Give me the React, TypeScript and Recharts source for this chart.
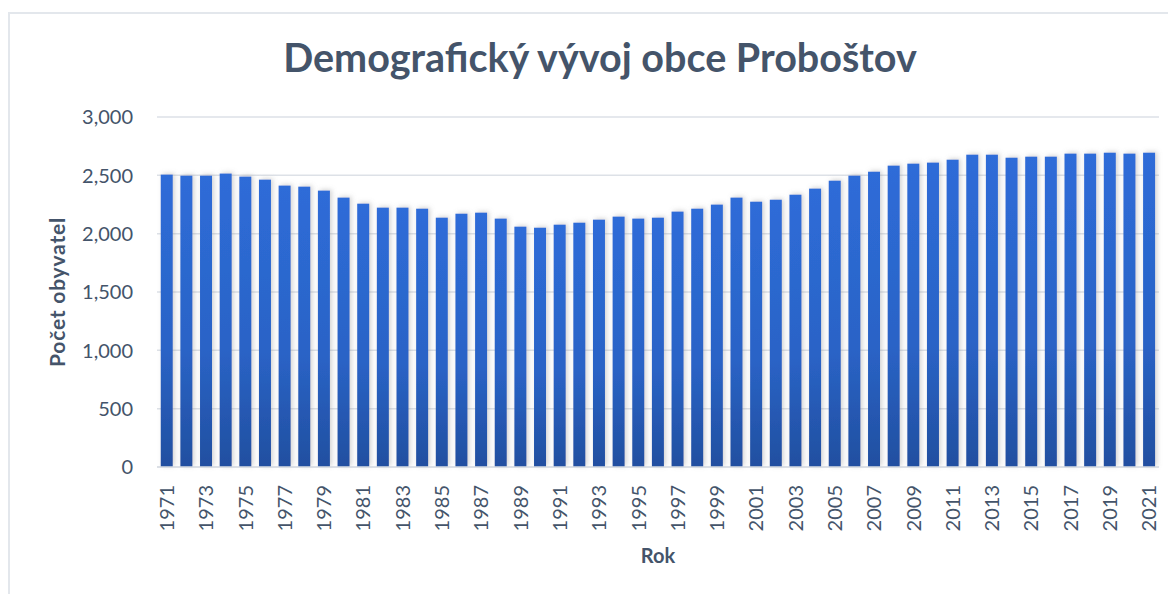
import React from "react";
import { BarChart, Bar, XAxis, YAxis, CartesianGrid } from "recharts";

const years: string[] = [
  "1971","1972","1973","1974","1975","1976","1977","1978","1979","1980",
  "1981","1982","1983","1984","1985","1986","1987","1988","1989","1990",
  "1991","1992","1993","1994","1995","1996","1997","1998","1999","2000",
  "2001","2002","2003","2004","2005","2006","2007","2008","2009","2010",
  "2011","2012","2013","2014","2015","2016","2017","2018","2019","2020","2021",
];

const population: number[] = [
  2506, 2497, 2497, 2515, 2489, 2463, 2412, 2403, 2369, 2309,
  2257, 2223, 2223, 2214, 2137, 2171, 2180, 2129, 2060, 2051,
  2077, 2094, 2120, 2146, 2129, 2137, 2189, 2214, 2249, 2309,
  2274, 2291, 2334, 2386, 2454, 2497, 2531, 2583, 2600, 2609,
  2634, 2677, 2677, 2651, 2660, 2660, 2686, 2686, 2694, 2686, 2694,
];

const yTicks: number[] = [0, 500, 1000, 1500, 2000, 2500, 3000];

const title = "Demografický vývoj obce Proboštov";
const xTitle = "Rok";
const yTitle = "Počet obyvatel";

const data = years.map((y, i) => ({ year: y, value: population[i] }));

const TEXT = "#44546A";
const FONT = "Lato, 'Open Sans', sans-serif";

const XTick = (props: any) => {
  const { x, y, payload } = props;
  return (
    <text
      x={x}
      y={y}
      dy="0.36em"
      textAnchor="end"
      transform={`rotate(-90, ${x}, ${y})`}
      fill={TEXT}
      fontSize={20}
      fontFamily={FONT}
    >
      {payload.value}
    </text>
  );
};

const YTick = (props: any) => {
  const { x, y, payload } = props;
  return (
    <text x={x} y={y} dy="0.36em" textAnchor="end" fill={TEXT} fontSize={20} fontFamily={FONT}>
      {Number(payload.value).toLocaleString("en-US")}
    </text>
  );
};

const XTitle = (props: any) => {
  const vb = props.viewBox || { x: 0, y: 0, width: 0, height: 0 };
  return (
    <text
      x={vb.x + vb.width / 2}
      y={vb.y + 96}
      textAnchor="middle"
      fill={TEXT}
      fontSize={20}
      fontWeight={700}
      fontFamily={FONT}
    >
      {xTitle}
    </text>
  );
};

const YTitle = (props: any) => {
  const vb = props.viewBox || { x: 0, y: 0, width: 0, height: 0 };
  const cx = vb.x - 20;
  const cy = vb.y + vb.height / 2;
  return (
    <text
      x={cx}
      y={cy}
      dy="0.36em"
      textAnchor="middle"
      transform={`rotate(-90, ${cx}, ${cy})`}
      fill={TEXT}
      fontSize={21}
      letterSpacing={0.8}
      fontWeight={700}
      fontFamily={FONT}
    >
      {yTitle}
    </text>
  );
};

const BarShape = (props: any) => {
  const { x, y, width, height } = props;
  if (!height || height <= 0) return null;
  return (
    <rect
      x={x}
      y={y}
      width={width}
      height={height}
      fill="url(#barGrad)"
      filter="url(#barShadow)"
    />
  );
};

export default function App() {
  return (
    <div
      style={{
        position: "relative",
        left: 0,
        top: 4,
        width: 1190,
        height: 600,
        borderLeft: "2px solid #E3E7EC",
        borderTop: "2px solid #E3E7EC",
        background: "#fff",
        boxSizing: "content-box",
      }}
    >
      <div
        style={{
          position: "absolute",
          left: 0,
          top: 19,
          width: 1180,
          textAlign: "center",
          fontFamily: FONT,
          fontWeight: 700,
          fontSize: 39.5,
          lineHeight: 1.2,
          color: TEXT,
          whiteSpace: "nowrap",
        }}
      >
        {title}
      </div>
      <div style={{ position: "absolute", left: 0, top: 0 }}>
        <BarChart
          width={1180}
          height={585}
          data={data}
          margin={{ top: 103, right: 31, bottom: 22, left: 67 }}
          barCategoryGap="19%"
        >
          <defs>
            <linearGradient id="barGrad" x1="0" y1="0" x2="0" y2="1">
              <stop offset="0%" stopColor="#2E6CD8" />
              <stop offset="60%" stopColor="#2A63C6" />
              <stop offset="100%" stopColor="#214FA0" />
            </linearGradient>
            <filter id="barShadow" x="-60%" y="-10%" width="220%" height="120%">
              <feDropShadow dx="2" dy="-1" stdDeviation="2.5" floodColor="#7F7F7F" floodOpacity="0.35" />
            </filter>
          </defs>
          <CartesianGrid vertical={false} stroke="#DDE1E7" strokeWidth={1.5} />
          <XAxis
            dataKey="year"
            interval={1}
            height={110}
            tickLine={false}
            tickSize={6}
            tickMargin={12}
            axisLine={{ stroke: "#D9DDE3", strokeWidth: 1.5 }}
            tick={<XTick />}
            label={<XTitle />}
          />
          <YAxis
            width={80}
            domain={[0, 3000]}
            ticks={yTicks}
            tickLine={false}
            axisLine={false}
            tickSize={6}
            tickMargin={18}
            tick={<YTick />}
            label={<YTitle />}
          />
          <Bar dataKey="value" isAnimationActive={false} shape={<BarShape />} />
        </BarChart>
      </div>
    </div>
  );
}
